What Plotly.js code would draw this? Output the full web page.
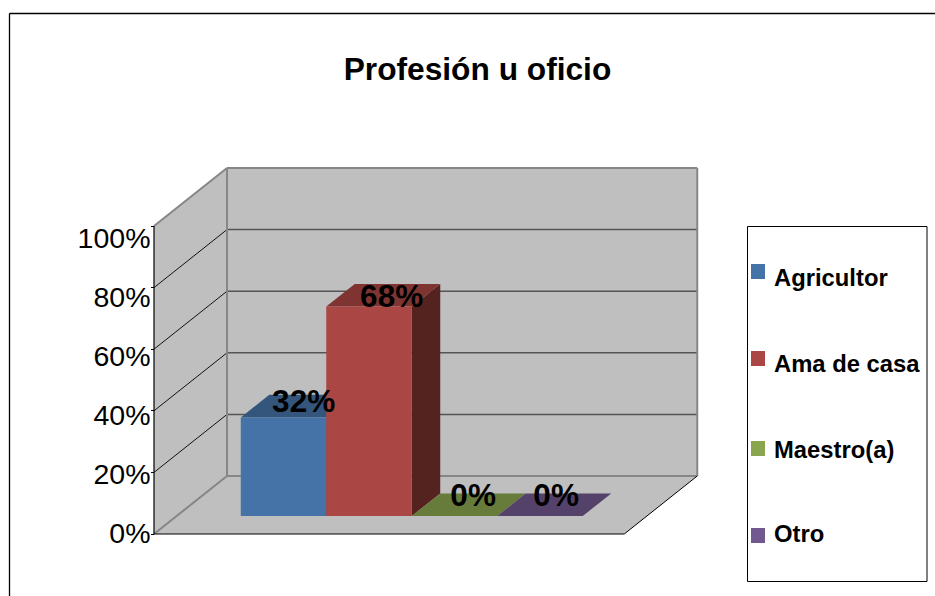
<!DOCTYPE html>
<html>
<head>
<meta charset="utf-8">
<script src="https://cdn.plot.ly/plotly-3.0.1.min.js"></script>
<style>html,body{margin:0;padding:0;background:#fff;overflow:hidden}</style>
</head>
<body>
<div id="chart" style="width:935px;height:596px"></div>
<script>
// ---- data ----
const categories = ['Agricultor', 'Ama de casa', 'Maestro(a)', 'Otro'];
const percentages = [32, 68, 0, 0];
const frontColors = ['#4572A7', '#AA4643', '#89A54E', '#71588F'];
const topColors = ['#34567D', '#7F3432', '#677C3A', '#54426B'];
const sideColors = ['#2B4666', '#55231F', '#44531F', '#38294A'];
const tickValues = [0, 20, 40, 60, 80, 100];
const tickLabels = ['0%', '20%', '40%', '60%', '80%', '100%'];
const chartTitle = 'Profesión u oficio';

// ---- page and projection set-up ----
const W = 935, H = 596, FONT = '"Liberation Sans", Arial, sans-serif';
const pxX = p => p / W, pxY = p => 1 - p / H;
const unitX = 85.5, unitY = 3.08;          // px per category, px per percent
const originX = 154, originY = 534;        // front-bottom-left corner of the box
const plotLeft = 140, plotRight = 702, plotTop = 162, plotBottom = 540; // subplot in px
const depthX = 73 / unitX, depthY = 58 / unitY;         // full box depth in axis units
const gap = 0.75, spanX = categories.length + 2 * gap, spanY = 100;
const barNear = 0.31, barFar = 0.70;       // fraction of the box depth used by the bars

// a point on the oblique box: category position, percent, depth fraction
const pt = (c, v, d) => [c + d * depthX, v + d * depthY];
const pathOf = pts => 'M' + pts.map(p => p[0] + ',' + p[1]).join('L') + 'Z';
const poly = (pts, fill) => ({type: 'path', xref: 'x', yref: 'y', layer: 'below', path: pathOf(pts), fillcolor: fill, line: {width: 0}});
const seg = (a, b, color, width) => ({type: 'line', xref: 'x', yref: 'y', layer: 'below', x0: a[0], y0: a[1], x1: b[0], y1: b[1], line: {color, width}});
const pap = (x0, y0, x1, y1, extra) => Object.assign({type: 'rect', xref: 'paper', yref: 'paper', x0: pxX(x0), x1: pxX(x1), y0: pxY(y0), y1: pxY(y1)}, extra);

const WALL = '#BFBFBF', EDGE = '#868686', GRID = '#555555';
const shapes = [];
// walls and floor
shapes.push(poly([pt(0, 0, 0), pt(0, spanY, 0), pt(0, spanY, 1), pt(0, 0, 1)], WALL));
shapes.push(poly([pt(0, 0, 1), pt(0, spanY, 1), pt(spanX, spanY, 1), pt(spanX, 0, 1)], WALL));
shapes.push(poly([pt(0, 0, 0), pt(spanX, 0, 0), pt(spanX, 0, 1), pt(0, 0, 1)], WALL));
// gridlines
tickValues.slice(1, -1).forEach(v => {
  shapes.push(seg(pt(0, v, 0), pt(0, v, 1), '#111111', 1));
  shapes.push(seg(pt(0, v, 1), pt(spanX, v, 1), GRID, 1.5));
});
// wall edges
shapes.push(seg(pt(0, spanY, 0), pt(0, spanY, 1), EDGE, 2));
shapes.push(seg(pt(0, spanY, 1), pt(spanX, spanY, 1), EDGE, 2));
shapes.push(seg(pt(0, 0, 1), pt(0, spanY, 1), EDGE, 2));
shapes.push(seg(pt(spanX, 0, 1), pt(spanX, spanY, 1), EDGE, 2));
shapes.push(seg(pt(0, 0, 0), pt(0, 0, 1), EDGE, 2));
shapes.push(seg(pt(0, 0, 1), pt(spanX, 0, 1), EDGE, 2));
// floor front edges and value axis line
shapes.push(seg(pt(0, 0, 0), pt(spanX, 0, 0), '#000000', 1.2));
shapes.push(seg(pt(spanX, 0, 0), pt(spanX, 0, 1), '#000000', 1));
shapes.push(seg(pt(0, 0, 0), pt(0, spanY, 0), '#000000', 1.2));
// bar tops and right sides
const barLeft = categories.map((_, i) => gap + i);
categories.forEach((_, i) => {
  const a = barLeft[i], b = a + 1, v = percentages[i];
  if (v > 0) shapes.push(poly([pt(b, 0, barNear), pt(b, v, barNear), pt(b, v, barFar), pt(b, 0, barFar)], sideColors[i]));
  shapes.push(poly([pt(a, v, barNear), pt(b, v, barNear), pt(b, v, barFar), pt(a, v, barFar)], topColors[i]));
});

// bar front faces
const frontBase = pt(0, 0, barNear);
const barTraces = categories.map((name, i) => ({
  type: 'bar', name, x: [barLeft[i] + 0.5 + frontBase[0]], y: [percentages[i]], base: [frontBase[1]],
  width: [1], marker: {color: frontColors[i], line: {width: 0}}, showlegend: false, hoverinfo: 'skip'
}));

// value labels, set back from the front face
const labelDepth = 0.62, labelScale = 0.95, labelLift = 0;
const labelNudgePx = [-2.5, 0, -4, -6.5];
const labelTrace = {
  type: 'scatter', mode: 'text', showlegend: false, hoverinfo: 'skip',
  x: barLeft.map((a, i) => a + 0.5 + labelDepth * depthX + labelNudgePx[i] / unitX),
  y: percentages.map(v => v * labelScale + labelDepth * depthY + labelLift),
  text: percentages.map(v => v + '%'), textposition: 'middle center',
  textfont: {family: FONT, size: 31.5, color: '#000000', weight: 700}, cliponaxis: false
};
// carrier for the tick-label axis
const carrier = {type: 'scatter', mode: 'none', x: [0], y: [0], yaxis: 'y2', showlegend: false, hoverinfo: 'skip'};

// legend box, swatches and entries
const legendSwatchTop = [264, 351, 441, 528];
const legendTextY = [278, 363, 449, 533];
shapes.push(pap(747.5, 226.5, 927, 581.5, {line: {color: '#000000', width: 1}, fillcolor: '#FFFFFF'}));
categories.forEach((_, i) => shapes.push(pap(751, legendSwatchTop[i], 765, legendSwatchTop[i] + 15, {fillcolor: frontColors[i], line: {width: 0}})));
const annotations = categories.map((name, i) => ({
  xref: 'paper', yref: 'paper', x: pxX(772), y: pxY(legendTextY[i]), xanchor: 'left', yanchor: 'middle',
  text: '<b>' + name + '</b>', showarrow: false, font: {family: FONT, size: 23.8, color: '#000000'}
}));
// outer chart frame: left and top edges in view
shapes.push({type: 'line', xref: 'paper', yref: 'paper', x0: pxX(9.5), x1: 1, y0: pxY(13.5), y1: pxY(13.5), line: {color: '#000000', width: 1.3}});
shapes.push({type: 'line', xref: 'paper', yref: 'paper', x0: pxX(9.5), x1: pxX(9.5), y0: pxY(13.5), y1: 0, line: {color: '#000000', width: 1.3}});

const layout = {
  width: W, height: H, margin: {l: 0, r: 0, t: 0, b: 0, pad: 0},
  paper_bgcolor: '#FFFFFF', plot_bgcolor: 'rgba(0,0,0,0)', showlegend: false, barmode: 'overlay',
  title: {text: chartTitle, x: pxX(477.5), xref: 'paper', xanchor: 'center', y: pxY(69), yref: 'paper', yanchor: 'middle',
          font: {family: FONT, size: 31.7, color: '#000000', weight: 700}},
  xaxis: {domain: [pxX(plotLeft), pxX(plotRight)], range: [(plotLeft - originX) / unitX, (plotRight - originX) / unitX],
          visible: false, fixedrange: true},
  yaxis: {domain: [pxY(plotBottom), pxY(plotTop)], range: [(originY - plotBottom) / unitY, (originY - plotTop) / unitY],
          anchor: 'free', position: pxX(originX), showgrid: false, zeroline: false, showline: false,
          tickmode: 'array', tickvals: tickValues, ticks: 'outside', ticklen: 3, tickwidth: 1, tickcolor: '#000000',
          showticklabels: false, fixedrange: true},
  // tick labels sit on a slightly tighter scale than the gridlines, as in the picture
  yaxis2: {domain: [pxY(plotBottom), pxY(plotTop)], range: [(533.5 - plotBottom) / 2.95, (533.5 - plotTop) / 2.95],
           overlaying: 'y', anchor: 'free', position: pxX(150.5), side: 'left', showgrid: false, zeroline: false, showline: false,
           tickmode: 'array', tickvals: tickValues, ticktext: tickLabels, ticks: '',
           tickfont: {family: FONT, size: 28.5, color: '#000000'}, fixedrange: true},
  shapes, annotations
};
Plotly.newPlot('chart', barTraces.concat([labelTrace, carrier]), layout, {staticPlot: true, displayModeBar: false});
</script>
</body>
</html>
